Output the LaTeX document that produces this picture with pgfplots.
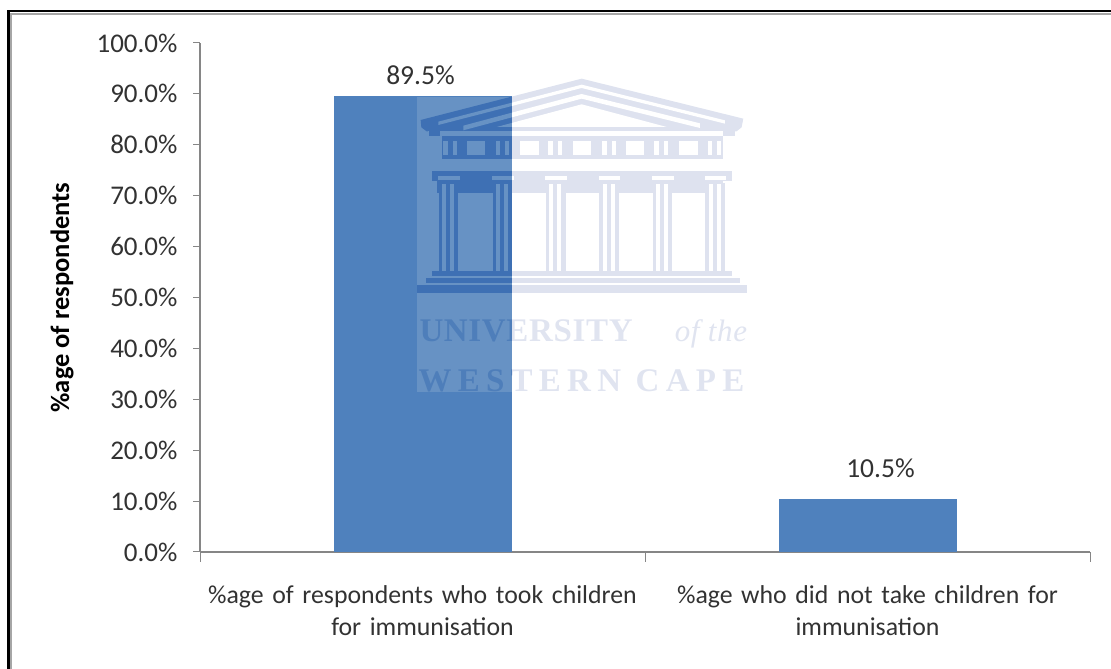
\documentclass[border=0pt]{standalone}
\usepackage{pgfplots}
\pgfplotsset{compat=1.18}
\usepackage{fontspec}
\setmainfont{Carlito}
\newfontfamily\crestfont[LetterSpace=2]{Liberation Serif}
\newfontfamily\crestwide[LetterSpace=19]{Liberation Serif}
\definecolor{barblue}{RGB}{79,129,189}
\definecolor{axisgray}{RGB}{134,134,134}
\definecolor{labeltext}{RGB}{50,50,50}
\definecolor{crestlight}{RGB}{222,226,239}
\definecolor{cresttextlight}{RGB}{224,228,240}
\definecolor{crestpanel}{RGB}{103,146,196}
\definecolor{crestdark}{RGB}{62,112,180}
\definecolor{cresttextdark}{RGB}{78,126,186}

% Temple crest of the university, drawn in a 3-to-1 local grid.
% #1 shape colour, #2 ground colour, #3 lettering colour
\newcommand{\crest}[3]{%
  % pediment with its two inner strips
  \fill[#1] (62,150) -- (545,26) -- (1030,146) -- (1025,172) -- (1010,184) -- (80,184) -- (64,172) -- cycle;
  \fill[#2] (115,155) -- (545,44) -- (975,151) -- (975,161) -- (545,54) -- (115,165) -- cycle;
  \fill[#2] (190,167) -- (545,72) -- (900,160) -- (900,174) -- (545,86) -- (190,181) -- cycle;
  \fill[#2] (290,171) -- (545,103) -- (800,171) -- cycle;
  \fill[#2] (85,184) rectangle (1005,198);
  % entablature
  \fill[#1] (88,184) rectangle (120,198);
  \fill[#1] (970,184) rectangle (1005,198);
  \fill[#1] (125,198) rectangle (970,268);
  \foreach \x in {200,360,518,677,837} \fill[#2] (\x,214) rectangle +(56,40);
  \foreach \x in {130,287,445,607,763,923} {
    \fill[#2] (\x,214) rectangle +(14,40);
    \fill[#2] (\x+28,214) rectangle +(13,40);
  }
  \fill[#1] (97,303) rectangle (995,332);
  \fill[#1] (110,332) rectangle (970,370);
  % columns
  \foreach \x in {114,276,436,596,756,914} {
    \fill[#2] (\x,318) rectangle +(65,12);
    \fill[#1] (\x+2,340) rectangle +(59,263);
    \fill[#2] (\x+12,342) rectangle +(12,261);
    \fill[#2] (\x+36,342) rectangle +(12,261);
  }
  % stepped base
  \fill[#1] (95,603) rectangle (995,617);
  \fill[#1] (78,624) rectangle (1020,638);
  \fill[#1] (52,646) rectangle (1040,668);
  % lettering
  \node[anchor=base west,inner sep=0pt,text=#3,font=\fontsize{33}{33}\selectfont\crestfont\bfseries] at (58,816) {UNIVERSITY};
  \node[anchor=base west,inner sep=0pt,text=#3,font=\fontsize{31}{31}\selectfont\crestfont\itshape] at (824,816) {of the};
  \node[anchor=base west,inner sep=0pt,text=#3,font=\fontsize{33}{33}\selectfont\crestwide\bfseries] at (55,964) {WESTERN CAPE};
}

\begin{document}
\begin{tikzpicture}[x=1pt,y=1pt]
\path[use as bounding box] (0,0) rectangle (1111,669);
\begin{axis}[
  at={(200pt,117pt)}, anchor=south west,
  scale only axis, width=890pt, height=509pt,
  xmin=-0.5, xmax=1.5, ymin=0, ymax=100,
  axis lines=left,
  axis line style={-,axisgray,line width=1.1pt},
  ybar, bar width=178pt, bar shift=0pt,
  ytick={0,10,...,100},
  yticklabel={\pgfmathprintnumber[fixed,fixed zerofill,precision=1]{\tick}\%},
  /pgf/number format/assume math mode=true,
  y tick style={axisgray,line width=1pt},
  major tick length=7pt,
  minor tick length=10pt,
  tick align=outside,
  xtick={0,1},
  xticklabels={{\%age of respondents who took children\\for immunisation},{\%age who did not take children for\\immunisation}},
  major x tick style={draw=none},
  minor xtick={-0.5,0.5,1.5},
  minor x tick style={axisgray,line width=1pt},
  x tick label style={align=center,text width=440pt,font=\fontsize{25.8}{32}\selectfont,text=labeltext,yshift=-23pt},
  y tick label style={font=\fontsize{27}{30}\selectfont,text=labeltext,xshift=-12pt},
  ylabel={\%age of respondents},
  every axis y label/.style={at={(axis description cs:-0.155,0.5)},anchor=center,rotate=90},
  ylabel style={font=\fontsize{26.5}{30}\selectfont\bfseries,text=black},
  nodes near coords={\pgfmathprintnumber[fixed,fixed zerofill,precision=1]{\pgfplotspointmeta}\%},
  every node near coord/.append style={font=\fontsize{27.5}{30}\selectfont,text=labeltext},
]
\addplot[fill=barblue,draw=none,every node near coord/.append style={yshift=8pt,xshift=-2pt}] coordinates {(0,89.5)};
\addplot[fill=barblue,draw=none,every node near coord/.append style={yshift=17pt,xshift=13pt}] coordinates {(1,10.5)};
\end{axis}
% Frame round the figure
\fill[black] (7,0) rectangle (9.5,659);
\fill[black] (7,656.5) rectangle (1111,659);
\fill[gray!70] (10,0) rectangle (11.5,655);
\fill[gray!70] (10,654) rectangle (1111,656);
% Crest over the first bar and the white ground
\begin{scope}[x=0.3333pt,y=-0.3333pt,shift={(400pt,599pt)}]
  \begin{scope}
    \clip (336,0) rectangle (1060,1000);
    \crest{crestlight}{white}{cresttextlight}
  \end{scope}
  \begin{scope}
    \clip (51,80) rectangle (336,965);
    \fill[crestpanel] (51,80) rectangle (336,965);
    \crest{crestdark}{crestpanel}{cresttextdark}
  \end{scope}
\end{scope}
\end{tikzpicture}
\end{document}
